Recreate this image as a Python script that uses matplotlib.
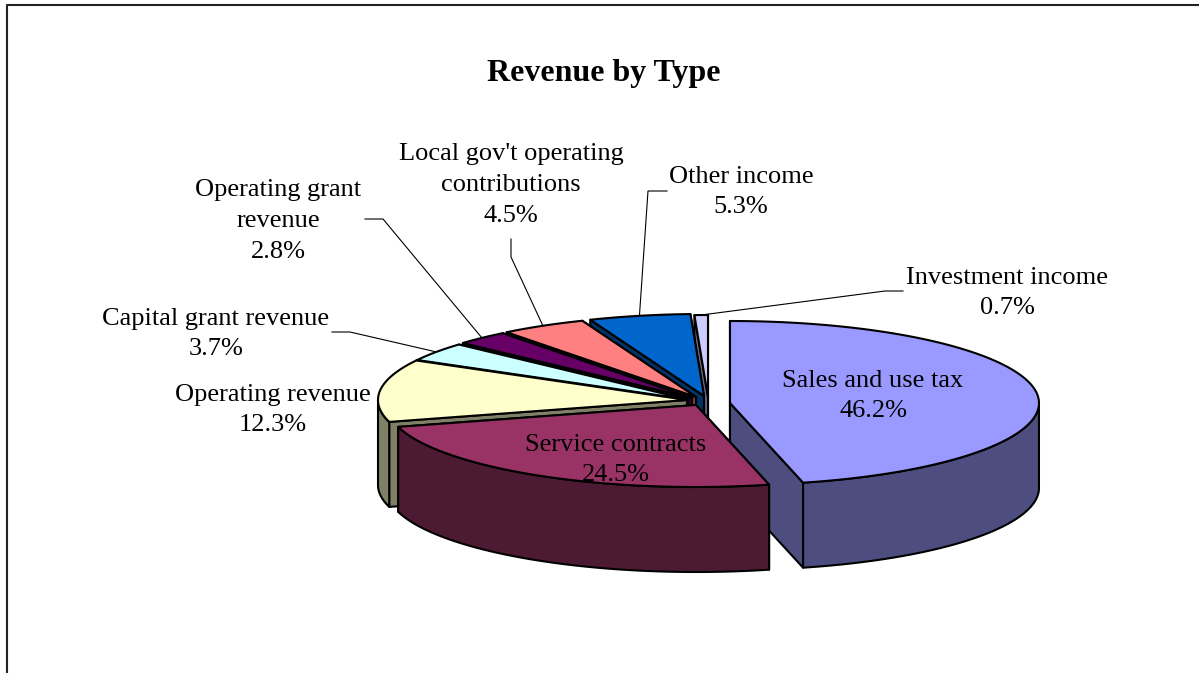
import numpy as np
import matplotlib
matplotlib.use('Agg')
import matplotlib.pyplot as plt
from matplotlib.patches import Polygon

plt.rcParams['font.family'] = ['Liberation Serif', 'DejaVu Serif']

# data, clockwise from the top of the pie
names = ['Sales and use tax', 'Service contracts', 'Operating revenue',
         'Capital grant revenue', 'Operating grant\nrevenue',
         "Local gov't operating\ncontributions", 'Other income',
         'Investment income']
values = [46.2, 24.5, 12.3, 3.7, 2.8, 4.5, 5.3, 0.7]
top_colors = ['#9999FF', '#993366', '#FFFFCC', '#CCFFFF',
              '#660066', '#FF8080', '#0066CC', '#CCCCFF']
side_colors = ['#4D4D80', '#4D1A33', '#808066', '#668080',
               '#330033', '#804040', '#003366', '#666680']

# layout in pixels, the axes run 0..1199 and 673..0
RX, RY, DEPTH = 309, 82, 85
centers = [(730, 403), (696, 405), (687, 400), (688, 399.5),
           (692, 398), (696, 397), (704, 396), (708, 397)]
label_pos = [(873, 396), (616, 460), (273, 410), (216, 334),
             (278, 221), (511, 185), (741, 192), (1007, 293)]
# leader start and bend, None for labels without a leader
leaders = [None, None, None,
           [(332, 332), (350, 332)], [(365, 219), (383, 219)],
           [(511, 239), (511, 257)], [(667, 191), (648, 191)],
           [(903, 291), (885, 291)]]
FS = 19
LW = 1.5

fig = plt.figure(figsize=(11.99, 6.73), dpi=100)
ax = fig.add_axes([0, 0, 1, 1])
ax.set_xlim(0, 1199)
ax.set_ylim(673, 0)
ax.axis('off')

# chart frame, only top and left show inside the picture
ax.plot([7, 7, 1199], [673, 5, 5], color='#222222', lw=1.5, zorder=1)


def rim(c, deg):
    a = np.radians(deg)
    return np.column_stack([c[0] + RX * np.cos(a), c[1] - RY * np.sin(a)])


def draw_slice(c, a0, a1, top, side, z):
    # a0 > a1, going clockwise
    p0 = rim(c, [a0])[0]
    p1 = rim(c, [a1])[0]
    # back cut face first, the one lower on screen goes last
    faces = sorted([p0, p1], key=lambda p: p[1])
    for p in faces:
        face = [c, p, (p[0], p[1] + DEPTH), (c[0], c[1] + DEPTH)]
        ax.add_patch(Polygon(face, fc=side, ec='black', lw=LW, joinstyle='round', zorder=z))
    # outer wall, front half only
    ang = np.linspace(a0, a1, 120)
    low = ang[np.sin(np.radians(ang)) <= 0]
    if len(low) > 1:
        r = rim(c, low)
        wall = np.vstack([r, (r + [0, DEPTH])[::-1]])
        ax.add_patch(Polygon(wall, fc=side, ec='black', lw=LW, joinstyle='round', zorder=z))
    pts = np.vstack([[c], rim(c, ang)])
    ax.add_patch(Polygon(pts, fc=top, ec='black', lw=LW, joinstyle='round', zorder=z))


starts = 90 - np.concatenate([[0], np.cumsum(values)[:-1]]) * 3.6
ends = starts - np.array(values) * 3.6

# sales first, then round from the back of the pie to the service slice
order = [0, 7, 6, 5, 4, 3, 2, 1]
for z, i in enumerate(order):
    draw_slice(centers[i], starts[i], ends[i], top_colors[i], side_colors[i], 3 + z)

for i, lead in enumerate(leaders):
    if lead is None:
        continue
    end = rim(centers[i], [(starts[i] + ends[i]) / 2])[0]
    xs = [lead[0][0], lead[1][0], end[0]]
    ys = [lead[0][1], lead[1][1], end[1]]
    ax.plot(xs, ys, color='black', lw=0.8, zorder=2)

ax.text(604, 74, 'Revenue by Type', fontsize=23, fontweight='bold',
        ha='center', va='center', zorder=20)

for i, name in enumerate(names):
    ax.text(label_pos[i][0], label_pos[i][1], f'{name}\n{values[i]:.1f}%',
            fontsize=FS, ha='center', va='center', linespacing=1.52, zorder=20)

fig.savefig('out.png', dpi=100)
